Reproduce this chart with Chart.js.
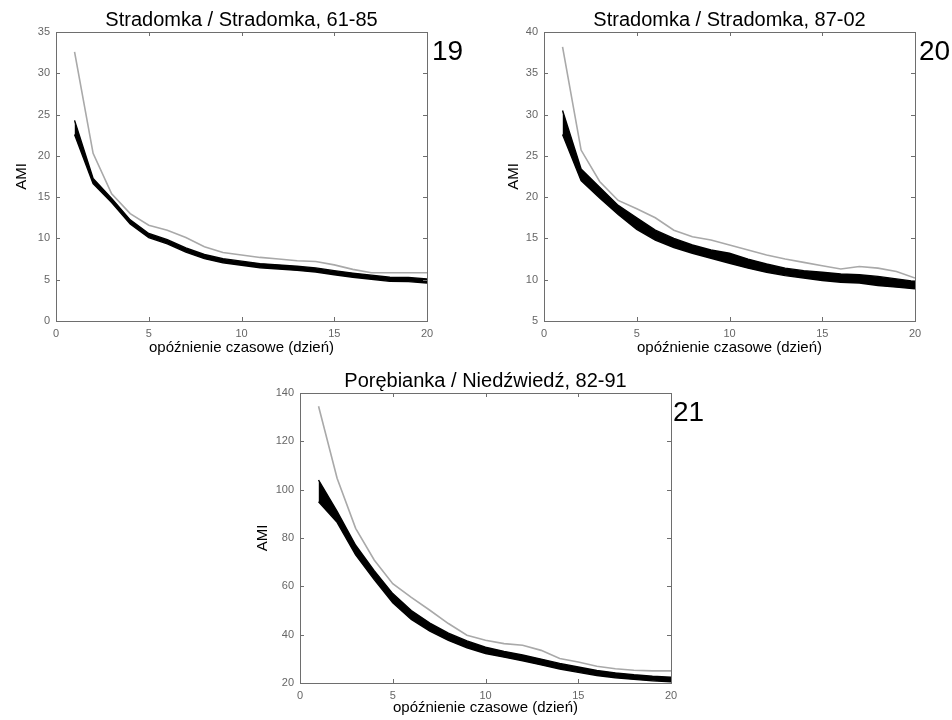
<!DOCTYPE html>
<html>
<head>
<meta charset="utf-8">
<script src="https://cdn.jsdelivr.net/npm/chart.js@4.4.0/dist/chart.umd.min.js"></script>
<style>
  body { margin: 0; background: #fff; width: 952px; height: 720px; position: relative; overflow: hidden; }
  canvas { position: absolute; }
</style>
</head>
<body>
<canvas id="p19" width="476" height="360" style="left:0;top:0"></canvas>
<canvas id="p20" width="476" height="360" style="left:476px;top:0"></canvas>
<canvas id="p21" width="480" height="360" style="left:236px;top:360px"></canvas>
<script>
// opóźnienie czasowe 1..20 dni
const lags = [1, 2, 3, 4, 5, 6, 7, 8, 9, 10, 11, 12, 13, 14, 15, 16, 17, 18, 19, 20];
const xTicks = [0, 5, 10, 15, 20];

// Stradomka / Stradomka, 61-85
const p19Ticks = [0, 5, 10, 15, 20, 25, 30, 35];
const p19Gray = [32.6, 20.3, 15.4, 13.0, 11.6, 11.0, 10.1, 9.0, 8.3, 8.0, 7.7, 7.5, 7.3, 7.2, 6.8, 6.25, 5.85, 5.85, 5.85, 5.85];
const p19Upper = [24.3, 17.25, 14.85, 12.25, 10.6, 9.85, 8.85, 8.05, 7.55, 7.25, 6.95, 6.8, 6.63, 6.43, 6.1, 5.8, 5.55, 5.3, 5.27, 5.1];
const p19Lower = [22.6, 16.65, 14.35, 11.75, 10.1, 9.35, 8.35, 7.55, 7.05, 6.75, 6.45, 6.3, 6.13, 5.93, 5.6, 5.3, 5.05, 4.8, 4.77, 4.6];

// Stradomka / Stradomka, 87-02
const p20Ticks = [5, 10, 15, 20, 25, 30, 35, 40];
const p20Gray = [38.2, 25.7, 21.9, 19.6, 18.6, 17.5, 16.0, 15.2, 14.8, 14.2, 13.6, 13.0, 12.5, 12.1, 11.7, 11.3, 11.6, 11.4, 11.0, 10.2];
const p20Upper = [30.5, 23.4, 21.2, 19.0, 17.5, 16.0, 15.0, 14.2, 13.6, 13.2, 12.5, 11.9, 11.4, 11.1, 10.9, 10.7, 10.6, 10.4, 10.1, 9.8];
const p20Lower = [27.6, 22.0, 19.9, 17.9, 16.1, 14.8, 13.9, 13.2, 12.6, 12.0, 11.4, 10.9, 10.5, 10.2, 9.9, 9.7, 9.6, 9.3, 9.1, 8.9];

// Porębianka / Niedźwiedź, 82-91
const p21Ticks = [20, 40, 60, 80, 100, 120, 140];
const p21Gray = [134.5, 104.7, 84.0, 70.9, 61.1, 55.4, 50.1, 44.6, 39.8, 37.7, 36.3, 35.6, 33.5, 30.1, 28.7, 26.9, 25.9, 25.3, 25.0, 25.0];
const p21Upper = [104, 91, 77, 66.5, 57, 50, 44.8, 40.6, 37.4, 34.8, 33.1, 31.6, 29.9, 28.1, 26.6, 25.2, 24.2, 23.4, 22.8, 22.4];
const p21Lower = [95, 86.5, 73, 62.8, 53.2, 46.3, 41.5, 37.6, 34.6, 32.2, 30.7, 29.2, 27.5, 25.8, 24.4, 23.1, 22.2, 21.5, 20.9, 20.5];

const FONT = "'Liberation Sans', Arial, Helvetica, sans-serif";

const toPoints = (vals) => vals.map((v, i) => ({ x: lags[i], y: v }));

// ramka wykresu z krótkimi kreskami skierowanymi do środka (jak w MATLAB-ie)
const framePlugin = {
  id: 'frame',
  afterDraw(chart, args, opts) {
    const { ctx, chartArea: a, scales } = chart;
    const len = 4;
    ctx.save();
    ctx.strokeStyle = '#6e6e6e';
    ctx.lineWidth = 1;
    ctx.strokeRect(a.left + 0.5, a.top + 0.5, a.right - a.left, a.bottom - a.top);
    ctx.beginPath();
    scales.x.ticks.forEach((t) => {
      const px = Math.round(scales.x.getPixelForValue(t.value)) + 0.5;
      ctx.moveTo(px, a.bottom); ctx.lineTo(px, a.bottom - len);
      ctx.moveTo(px, a.top); ctx.lineTo(px, a.top + len);
    });
    scales.y.ticks.forEach((t) => {
      const py = Math.round(scales.y.getPixelForValue(t.value)) + 0.5;
      ctx.moveTo(a.left, py); ctx.lineTo(a.left + len, py);
      ctx.moveTo(a.right, py); ctx.lineTo(a.right - len, py);
    });
    ctx.stroke();

    // tytuł nad wykresem i numer panelu po prawej
    ctx.fillStyle = '#000';
    ctx.textBaseline = 'middle';
    ctx.textAlign = 'center';
    ctx.font = `20px ${FONT}`;
    ctx.fillText(opts.title, (a.left + a.right) / 2, a.top - 12);
    ctx.textAlign = 'left';
    ctx.font = `28px ${FONT}`;
    ctx.fillText(opts.num, a.right + opts.numGap, a.top + 20);
    ctx.restore();
  },
};

function makePanel(id, p) {
  const ctx = document.getElementById(id).getContext('2d');
  return new Chart(ctx, {
    type: 'line',
    data: {
      datasets: [
        {
          data: toPoints(p.upper),
          borderColor: '#000',
          borderWidth: 1.4,
          fill: false,
        },
        {
          data: toPoints(p.lower),
          borderColor: '#000',
          borderWidth: 1.4,
          backgroundColor: '#000',
          fill: '-1',
        },
        {
          data: toPoints(p.gray),
          borderColor: '#a9a9a9',
          borderWidth: 1.6,
          fill: false,
        },
      ],
    },
    options: {
      responsive: false,
      animation: false,
      events: [],
      layout: { padding: { top: p.padTop, right: p.padRight, left: 0, bottom: 0 } },
      elements: { point: { radius: 0 }, line: { tension: 0 } },
      plugins: {
        legend: { display: false },
        tooltip: { enabled: false },
        frame: { title: p.title, num: p.num, numGap: p.numGap },
      },
      scales: {
        x: {
          type: 'linear',
          min: 0,
          max: 20,
          grid: { display: false, drawTicks: false },
          border: { display: false },
          afterBuildTicks: (scale) => { scale.ticks = xTicks.map((v) => ({ value: v })); },
          afterFit: (scale) => { scale.height = p.xHeight; },
          ticks: { padding: 6, color: '#666', font: { family: FONT, size: 11 } },
          title: {
            display: true,
            text: 'opóźnienie czasowe (dzień)',
            color: '#000',
            padding: { top: 0, bottom: 3 },
            font: { family: FONT, size: 15 },
          },
        },
        y: {
          type: 'linear',
          min: p.yTicks[0],
          max: p.yTicks[p.yTicks.length - 1],
          grid: { display: false, drawTicks: false },
          border: { display: false },
          afterBuildTicks: (scale) => { scale.ticks = p.yTicks.map((v) => ({ value: v })); },
          afterFit: (scale) => { scale.width = p.yWidth; },
          ticks: { padding: 6, color: '#666', font: { family: FONT, size: 11 } },
          title: {
            display: true,
            text: 'AMI',
            color: '#000',
            padding: { top: p.yTitlePad, bottom: 0 },
            font: { family: FONT, size: 15 },
          },
        },
      },
    },
    plugins: [framePlugin],
  });
}

makePanel('p19', {
  title: 'Stradomka / Stradomka, 61-85', num: '19', numGap: 5,
  gray: p19Gray, upper: p19Upper, lower: p19Lower, yTicks: p19Ticks,
  padTop: 32, padRight: 49, yWidth: 56, xHeight: 39, yTitlePad: 13,
});

makePanel('p20', {
  title: 'Stradomka / Stradomka, 87-02', num: '20', numGap: 4,
  gray: p20Gray, upper: p20Upper, lower: p20Lower, yTicks: p20Ticks,
  padTop: 32, padRight: 37, yWidth: 68, xHeight: 39, yTitlePad: 29,
});

makePanel('p21', {
  title: 'Porębianka / Niedźwiedź, 82-91', num: '21', numGap: 2,
  gray: p21Gray, upper: p21Upper, lower: p21Lower, yTicks: p21Ticks,
  padTop: 33, padRight: 45, yWidth: 64, xHeight: 37, yTitlePad: 18,
});
</script>
</body>
</html>
